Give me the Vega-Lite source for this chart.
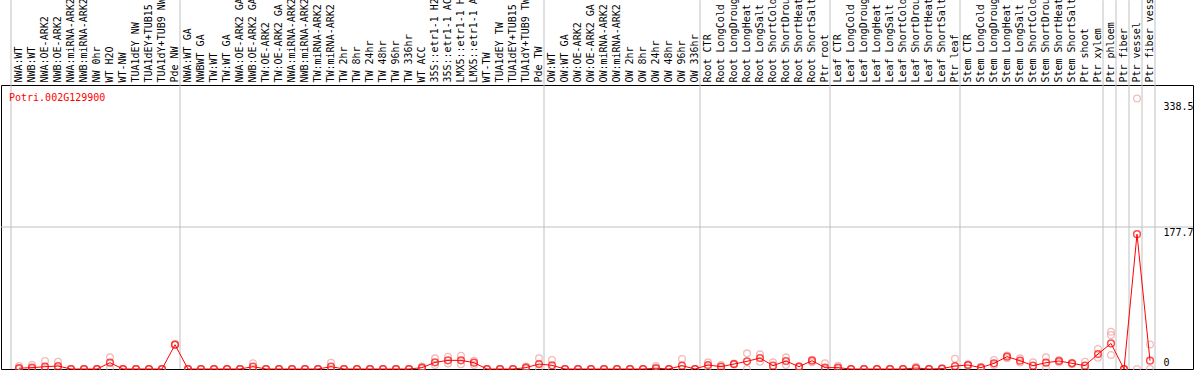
{
  "$schema": "https://vega.github.io/schema/vega-lite/v6.json",
  "width": 1192,
  "height": 284,
  "autosize": {"type": "none"},
  "padding": {"left": 1, "top": 85, "right": 1, "bottom": 1},
  "background": "white",
  "config": {"view": {"stroke": "black", "strokeWidth": 1}, "font": "DejaVu Sans Mono"},
  "title": {"text": "Potri.002G129900", "orient": "bottom", "anchor": "start", "frame": "group", "offset": -277, "baseline": "middle", "dx": 8, "color": "#ff0000", "font": "DejaVu Sans Mono", "fontSize": 10, "fontWeight": "normal"},
  "datasets": {
    "expr": [
      {"cat": "NWA:WT", "mean": 1, "r1": 3.7, "r2": 0},
      {"cat": "NWB:WT", "mean": 1.7, "r1": 5, "r2": 0},
      {"cat": "NWA:OE-ARK2", "mean": 2.9, "r1": 10, "r2": 0},
      {"cat": "NWB:OE-ARK2", "mean": 3.7, "r1": 9.2, "r2": 1},
      {"cat": "NWA:miRNA-ARK2", "mean": 0, "r1": 0, "r2": 0},
      {"cat": "NWB:miRNA-ARK2", "mean": 0, "r1": 0, "r2": 0},
      {"cat": "NW 0hr", "mean": 0, "r1": 0, "r2": 0},
      {"cat": "WT H2O", "mean": 7.9, "r1": 14.6, "r2": 1},
      {"cat": "WT-NW", "mean": 0, "r1": 0, "r2": 0},
      {"cat": "TUA1dEY NW", "mean": 0, "r1": 0, "r2": 0},
      {"cat": "TUA1dEY+TUB15 NW", "mean": 0, "r1": 0, "r2": 0},
      {"cat": "TUA1dY+TUB9 NW", "mean": 0, "r1": 0, "r2": 0},
      {"cat": "Pde NW", "mean": 30.4, "r1": 30, "r2": 31},
      {"cat": "NWA:WT GA", "mean": 0, "r1": 0, "r2": 0},
      {"cat": "NWBWT GA", "mean": 0, "r1": 0, "r2": 0},
      {"cat": "TW:WT", "mean": 0, "r1": 0, "r2": 0},
      {"cat": "TW:WT GA", "mean": 0, "r1": 0, "r2": 0},
      {"cat": "NWA:OE-ARK2 GA", "mean": 0, "r1": 0, "r2": 0},
      {"cat": "NWB:OE-ARK2 GA", "mean": 2.9, "r1": 7.1, "r2": 0},
      {"cat": "TW:OE-ARK2", "mean": 0, "r1": 0, "r2": 0},
      {"cat": "TW:OE-ARK2 GA", "mean": 0, "r1": 0, "r2": 0},
      {"cat": "NWA:miRNA-ARK2 GA", "mean": 0, "r1": 0, "r2": 0},
      {"cat": "NWB:miRNA-ARK2 GA", "mean": 0, "r1": 0, "r2": 0},
      {"cat": "TW:miRNA-ARK2", "mean": 0, "r1": 0, "r2": 0},
      {"cat": "TW:miRNA-ARK2 GA", "mean": 2.9, "r1": 7.9, "r2": 0},
      {"cat": "TW 2hr", "mean": 0, "r1": 0, "r2": 0},
      {"cat": "TW 8hr", "mean": 0, "r1": 0, "r2": 0},
      {"cat": "TW 24hr", "mean": 0, "r1": 0, "r2": 0},
      {"cat": "TW 48hr", "mean": 0, "r1": 0, "r2": 0},
      {"cat": "TW 96hr", "mean": 0, "r1": 0, "r2": 0},
      {"cat": "TW 336hr", "mean": 0, "r1": 0, "r2": 0},
      {"cat": "WT ACC", "mean": 1.7, "r1": 3, "r2": 0.5},
      {"cat": "35S::etr1-1 H2O", "mean": 8.3, "r1": 13.3, "r2": 5},
      {"cat": "35S::etr1-1 ACC", "mean": 10.8, "r1": 15.4, "r2": 7},
      {"cat": "LMX5::etr1-1 H2O", "mean": 10.8, "r1": 16.7, "r2": 6},
      {"cat": "LMX5::etr1-1 ACC", "mean": 7.9, "r1": 10.4, "r2": 5},
      {"cat": "WT-TW", "mean": 0, "r1": 0, "r2": 0},
      {"cat": "TUA1dEY TW", "mean": 0, "r1": 0, "r2": 0},
      {"cat": "TUA1dEY+TUB15 TW", "mean": 0, "r1": 0, "r2": 0},
      {"cat": "TUA1dY+TUB9 TW", "mean": 1.7, "r1": 3, "r2": 0.5},
      {"cat": "Pde TW", "mean": 6.2, "r1": 13.3, "r2": 0},
      {"cat": "OW:WT", "mean": 4.6, "r1": 11.3, "r2": 0},
      {"cat": "OW:WT GA", "mean": 0, "r1": 0, "r2": 0},
      {"cat": "OW:OE-ARK2", "mean": 0, "r1": 0, "r2": 0},
      {"cat": "OW:OE-ARK2 GA", "mean": 0, "r1": 0, "r2": 0},
      {"cat": "OW:miRNA-ARK2", "mean": 0, "r1": 0, "r2": 0},
      {"cat": "OW:miRNA-ARK2 GA", "mean": 0, "r1": 0, "r2": 0},
      {"cat": "OW 2hr", "mean": 0, "r1": 0, "r2": 0},
      {"cat": "OW 8hr", "mean": 0, "r1": 0, "r2": 0},
      {"cat": "OW 24hr", "mean": 1, "r1": 3.7, "r2": 0},
      {"cat": "OW 48hr", "mean": 0, "r1": 0, "r2": 0},
      {"cat": "OW 96hr", "mean": 4.2, "r1": 12.5, "r2": 0},
      {"cat": "OW 336hr", "mean": 0, "r1": 0, "r2": 0},
      {"cat": "Root CTR", "mean": 5, "r1": 8.3, "r2": 2.5},
      {"cat": "Root LongCold", "mean": 2.9, "r1": 5, "r2": 0.5},
      {"cat": "Root LongDrought", "mean": 6.2, "r1": 7, "r2": 5.5},
      {"cat": "Root LongHeat", "mean": 9.6, "r1": 19.6, "r2": 0},
      {"cat": "Root LongSalt", "mean": 13.75, "r1": 18.3, "r2": 9},
      {"cat": "Root ShortCold", "mean": 4.2, "r1": 8.3, "r2": 0.5},
      {"cat": "Root ShortDrought", "mean": 10, "r1": 14.6, "r2": 5},
      {"cat": "Root ShortHeat", "mean": 2.9, "r1": 3.5, "r2": 2.3},
      {"cat": "Root ShortSalt", "mean": 10.4, "r1": 11.5, "r2": 8.5},
      {"cat": "Ptr root", "mean": 1.7, "r1": 7.1, "r2": 0},
      {"cat": "Leaf CTR", "mean": 1.7, "r1": 4.2, "r2": 0},
      {"cat": "Leaf LongCold", "mean": 0, "r1": 0, "r2": 0},
      {"cat": "Leaf LongDrought", "mean": 0, "r1": 0, "r2": 0},
      {"cat": "Leaf LongHeat", "mean": 0, "r1": 0, "r2": 0},
      {"cat": "Leaf LongSalt", "mean": 0, "r1": 0, "r2": 0},
      {"cat": "Leaf ShortCold", "mean": 0, "r1": 0, "r2": 0},
      {"cat": "Leaf ShortDrought", "mean": 1.2, "r1": 2.9, "r2": 0},
      {"cat": "Leaf ShortHeat", "mean": 0, "r1": 0, "r2": 0},
      {"cat": "Leaf ShortSalt", "mean": 0.5, "r1": 1, "r2": 0},
      {"cat": "Ptr leaf", "mean": 3.7, "r1": 12.9, "r2": 0},
      {"cat": "Stem CTR", "mean": 5, "r1": 6, "r2": 4},
      {"cat": "Stem LongCold", "mean": 1.7, "r1": 2.9, "r2": 0.5},
      {"cat": "Stem LongDrought", "mean": 7.1, "r1": 11.3, "r2": 5},
      {"cat": "Stem LongHeat", "mean": 15.4, "r1": 17, "r2": 13.5},
      {"cat": "Stem LongSalt", "mean": 10.4, "r1": 13.3, "r2": 8},
      {"cat": "Stem ShortCold", "mean": 4.2, "r1": 8.3, "r2": 0},
      {"cat": "Stem ShortDrought", "mean": 7.9, "r1": 14.6, "r2": 1},
      {"cat": "Stem ShortHeat", "mean": 10, "r1": 11.3, "r2": 8.3},
      {"cat": "Stem ShortSalt", "mean": 7.1, "r1": 7.9, "r2": 6},
      {"cat": "Ptr shoot", "mean": 4.2, "r1": 9.2, "r2": 0.5},
      {"cat": "Ptr xylem", "mean": 18.75, "r1": 25, "r2": 14},
      {"cat": "Ptr phloem", "mean": 32, "r1": 46.6, "r2": 42.5, "r3": 17.5},
      {"cat": "Ptr fiber", "mean": 0, "r1": 0, "r2": 0},
      {"cat": "Ptr vessel", "mean": 168.75, "r1": 338.5, "r2": 0},
      {"cat": "Ptr fiber vessel", "mean": 10.4, "r1": 30.8, "r2": 0}
    ],
    "separators": [
      {"cat": "Pde NW"}, {"cat": "Pde TW"}, {"cat": "OW 336hr"}, {"cat": "Ptr root"}, {"cat": "Ptr leaf"},
      {"cat": "Ptr xylem"}, {"cat": "Ptr phloem"}, {"cat": "Ptr fiber"}, {"cat": "Ptr vessel"}, {"cat": "Ptr fiber vessel"}
    ],
    "firstSeparator": [{"cat": "NWA:WT"}],
    "midline": [{"level": 177.7}]
  },
  "layer": [
    {
      "data": {"name": "separators"},
      "mark": {"type": "rule", "color": "#c0c0c0", "strokeWidth": 1},
      "encoding": {
        "x": {"field": "cat", "type": "nominal", "bandPosition": 0.885},
        "y": {"datum": 0, "type": "quantitative"},
        "y2": {"datum": 461.5}
      }
    },
    {
      "data": {"name": "firstSeparator"},
      "mark": {"type": "rule", "color": "#c0c0c0", "strokeWidth": 1},
      "encoding": {
        "x": {"field": "cat", "type": "nominal", "bandPosition": -0.115},
        "y": {"datum": 0, "type": "quantitative"},
        "y2": {"datum": 461.5}
      }
    },
    {
      "data": {"name": "midline"},
      "mark": {"type": "rule", "color": "#c0c0c0", "strokeWidth": 1},
      "encoding": {
        "y": {"field": "level", "type": "quantitative"}
      }
    },
    {
      "data": {"name": "expr"},
      "transform": [
        {"fold": ["r1", "r2", "r3"], "as": ["rep", "value"]},
        {"filter": "isValid(datum.value)"}
      ],
      "mark": {"type": "point", "filled": false, "stroke": "#f2a0a0", "strokeWidth": 1.3, "size": 45},
      "encoding": {
        "x": {"field": "cat", "type": "nominal"},
        "y": {"field": "value", "type": "quantitative"}
      }
    },
    {
      "data": {"name": "expr"},
      "mark": {"type": "line", "color": "#ff0000", "strokeWidth": 1},
      "encoding": {
        "x": {
          "field": "cat", "type": "nominal",
          "scale": {
            "type": "band", "paddingInner": 0, "paddingOuter": 0, "range": [11.5, 1155.5],
            "domain": ["NWA:WT", "NWB:WT", "NWA:OE-ARK2", "NWB:OE-ARK2", "NWA:miRNA-ARK2", "NWB:miRNA-ARK2", "NW 0hr", "WT H2O", "WT-NW", "TUA1dEY NW", "TUA1dEY+TUB15 NW", "TUA1dY+TUB9 NW", "Pde NW",
              "NWA:WT GA", "NWBWT GA", "TW:WT", "TW:WT GA", "NWA:OE-ARK2 GA", "NWB:OE-ARK2 GA", "TW:OE-ARK2", "TW:OE-ARK2 GA", "NWA:miRNA-ARK2 GA", "NWB:miRNA-ARK2 GA", "TW:miRNA-ARK2", "TW:miRNA-ARK2 GA", "TW 2hr", "TW 8hr", "TW 24hr", "TW 48hr", "TW 96hr", "TW 336hr", "WT ACC", "35S::etr1-1 H2O", "35S::etr1-1 ACC", "LMX5::etr1-1 H2O", "LMX5::etr1-1 ACC", "WT-TW", "TUA1dEY TW", "TUA1dEY+TUB15 TW", "TUA1dY+TUB9 TW", "Pde TW",
              "OW:WT", "OW:WT GA", "OW:OE-ARK2", "OW:OE-ARK2 GA", "OW:miRNA-ARK2", "OW:miRNA-ARK2 GA", "OW 2hr", "OW 8hr", "OW 24hr", "OW 48hr", "OW 96hr", "OW 336hr",
              "Root CTR", "Root LongCold", "Root LongDrought", "Root LongHeat", "Root LongSalt", "Root ShortCold", "Root ShortDrought", "Root ShortHeat", "Root ShortSalt", "Ptr root",
              "Leaf CTR", "Leaf LongCold", "Leaf LongDrought", "Leaf LongHeat", "Leaf LongSalt", "Leaf ShortCold", "Leaf ShortDrought", "Leaf ShortHeat", "Leaf ShortSalt", "Ptr leaf",
              "Stem CTR", "Stem LongCold", "Stem LongDrought", "Stem LongHeat", "Stem LongSalt", "Stem ShortCold", "Stem ShortDrought", "Stem ShortHeat", "Stem ShortSalt", "Ptr shoot",
              "Ptr xylem", "Ptr phloem", "Ptr fiber", "Ptr vessel", "Ptr fiber vessel"]
          },
          "axis": {"orient": "top", "title": null, "labelAngle": -90, "labelAlign": "left", "labelBaseline": "middle", "labelPadding": 3, "ticks": false, "tickSize": 0, "domain": false, "grid": false, "labelFont": "DejaVu Sans Mono", "labelFontSize": 10, "labelColor": "black", "labelLimit": 0}
        },
        "y": {
          "field": "mean", "type": "quantitative",
          "scale": {"domain": [0, 355.4], "nice": false, "zero": true},
          "axis": {
            "orient": "right", "values": [0, 177.7, 338.5], "title": null, "ticks": false, "tickSize": 0, "domain": false, "grid": false,
            "labelExpr": "datum.value == 0 ? '0' : format(datum.value, '.1f')",
            "labelAlign": "left", "labelPadding": -30, "labelFont": "DejaVu Sans Mono", "labelFontSize": 10, "labelColor": "black",
            "labelOffset": {"expr": "datum.value == 0 ? -7 : (datum.value > 300 ? 8 : 5)"}
          }
        }
      }
    },
    {
      "data": {"name": "expr"},
      "mark": {"type": "point", "filled": false, "stroke": "#ff0000", "strokeWidth": 1.5, "size": 45},
      "encoding": {
        "x": {"field": "cat", "type": "nominal"},
        "y": {"field": "mean", "type": "quantitative"}
      }
    }
  ]
}
